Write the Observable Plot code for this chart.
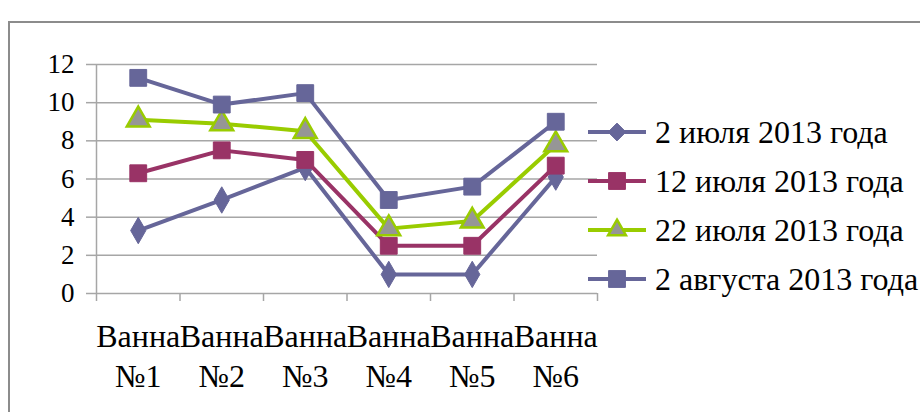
<!DOCTYPE html>
<html><head><meta charset="utf-8">
<script src="https://cdn.jsdelivr.net/npm/d3@7"></script>
<script src="https://cdn.jsdelivr.net/npm/@observablehq/plot@0.6"></script>
<style>
body{margin:0;background:#fff;}
#wrap{position:relative;width:920px;height:412px;overflow:hidden;font-family:"Liberation Serif","DejaVu Serif",serif;}
#border{position:absolute;left:8px;top:21px;width:960px;height:500px;border:2px solid #8c8c8c;box-sizing:border-box;}
#chart{position:absolute;left:0;top:0;}
#legend{position:absolute;left:586px;top:0;}
.row{position:absolute;left:0;display:flex;align-items:center;white-space:nowrap;font-size:32px;color:#000;}
.row span{margin-left:7px;}
</style></head>
<body><div id="wrap"><div id="border"></div><div id="chart"></div><div id="legend"></div></div>
<script>
const categories = ["Ванна\n№1","Ванна\n№2","Ванна\n№3","Ванна\n№4","Ванна\n№5","Ванна\n№6"];
const seriesNames = ["2 июля 2013 года","12 июля 2013 года","22 июля 2013 года","2 августа 2013 года"];
const v1 = [3.3,4.9,6.6,1.0,1.0,6.1];
const v2 = [6.3,7.5,7.0,2.5,2.5,6.7];
const v3 = [9.1,8.9,8.5,3.4,3.8,7.8];
const v4 = [11.3,9.9,10.5,4.9,5.6,9.0];
const yTicks = [0,2,4,6,8,10,12];

const values = [v1,v2,v3,v4];
const styles = [
  {stroke:"#666699", symbol:"diamond", fill:"#666699", mstroke:"#666699", r:8},
  {stroke:"#993366", symbol:"square", fill:"#993366", mstroke:"#993366", r:9.5},
  {stroke:"#99cc00", symbol:"triangle", fill:"#969696", mstroke:"#99cc00", r:8.5},
  {stroke:"#666699", symbol:"square", fill:"#666699", mstroke:"#666699", r:9.5}
];
const data = [];
values.forEach((arr,s)=>arr.forEach((v,i)=>data.push({series:seriesNames[s], idx:i, pos:i+0.5, value:v})));

const FONT = '"Liberation Serif","DejaVu Serif",serif';
const marks = [
  Plot.gridY(yTicks, {stroke:"#a6a6a6", strokeOpacity:1, strokeWidth:1.5}),
  Plot.axisY(yTicks, {label:null, tickSize:10, tickPadding:12, stroke:"#a6a6a6", strokeOpacity:1, strokeWidth:1.5, fill:"#000", fontSize:27}),
  Plot.ruleX([0], {stroke:"#a6a6a6", strokeWidth:1.5}),
  Plot.axisX([0,1,2,3,4,5,6], {label:null, tickSize:8, tickFormat:()=>"", stroke:"#a6a6a6", strokeOpacity:1, strokeWidth:1.5}),
  Plot.axisX(categories.map((c,i)=>i+0.5), {label:null, tickSize:0, tickPadding:25, tickFormat:d=>categories[Math.floor(d)], lineHeight:1.25, fill:"#000", fontSize:32})
];
seriesNames.forEach((name,s)=>{
  const st = styles[s];
  const d = data.filter(r=>r.series===name);
  marks.push(Plot.line(d, {x:"pos", y:"value", stroke:st.stroke, strokeWidth:4, strokeLinejoin:"round"}));
  marks.push(Plot.dot(d, {x:"pos", y:"value", symbol:st.symbol, r:st.r, fill:st.fill, stroke:st.mstroke, strokeWidth: s===2?2.5:1}));
});

const chart = Plot.plot({
  width:920, height:412,
  marginLeft:96, marginRight:323, marginTop:64, marginBottom:119,
  style:{fontFamily:FONT, fontSize:"27px", background:"transparent", color:"#000", overflow:"visible"},
  x:{domain:[0,6], axis:null},
  y:{domain:[0,12], axis:null},
  marks
});
document.getElementById("chart").appendChild(chart);

// legend
const legend = document.getElementById("legend");
const rowY = [132,181,230,279];
seriesNames.forEach((name,s)=>{
  const st = styles[s];
  const row = document.createElement("div");
  row.className = "row";
  row.style.top = (rowY[s]-18)+"px";
  row.style.height = "36px";
  const svg = d3.create("svg").attr("width",62).attr("height",36);
  svg.append("line").attr("x1",2).attr("x2",60).attr("y1",18).attr("y2",18).attr("stroke",st.stroke).attr("stroke-width",4);
  const symMap = {diamond:d3.symbolDiamond2, square:d3.symbolSquare, triangle:d3.symbolTriangle2};
  svg.append("path").attr("transform","translate(31,18)")
    .attr("d", d3.symbol(symMap[st.symbol], Math.PI*st.r*st.r)())
    .attr("fill",st.fill).attr("stroke",st.mstroke).attr("stroke-width", s===2?2.5:1);
  row.appendChild(svg.node());
  const t = document.createElement("span");
  t.textContent = name;
  row.appendChild(t);
  legend.appendChild(row);
});
</script></body></html>
